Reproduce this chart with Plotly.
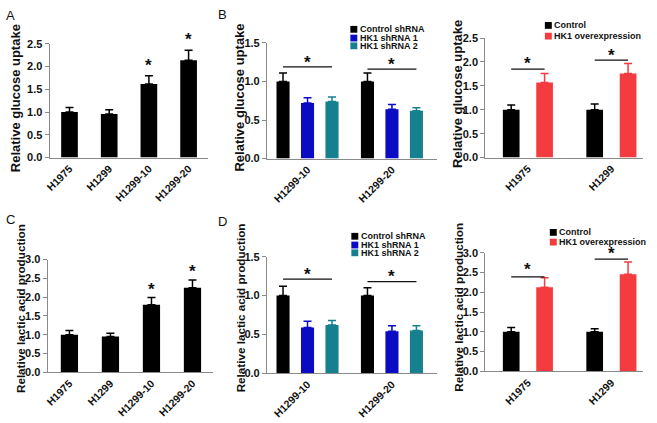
import plotly.graph_objects as go

W, H = 657, 423

# ---- data ----
lines4 = ["H1975", "H1299", "H1299-10", "H1299-20"]
a_glucose = [1.0, 0.96, 1.62, 2.14]
a_glucose_err = [0.10, 0.09, 0.18, 0.22]
a_star_y = [None, None, 2.02, 2.59]

c_lactate = [1.0, 0.95, 1.80, 2.25]
c_lactate_err = [0.11, 0.09, 0.19, 0.21]
c_star_y = [None, None, 2.20, 2.68]

kd_lines = ["H1299-10", "H1299-20"]
kd_names = ["Control shRNA", "HK1 shRNA 1", "HK1 shRNA 2"]
b_ctrl = [1.0, 1.0]
b_ctrl_err = [0.11, 0.11]
b_sh1 = [0.72, 0.64]
b_sh1_err = [0.07, 0.06]
b_sh2 = [0.74, 0.62]
b_sh2_err = [0.06, 0.04]
b_sig_y = [1.19, 1.16]
b_star_y = [1.25, 1.22]

d_ctrl = [1.0, 1.0]
d_ctrl_err = [0.12, 0.10]
d_sh1 = [0.59, 0.54]
d_sh1_err = [0.08, 0.07]
d_sh2 = [0.62, 0.55]
d_sh2_err = [0.06, 0.06]
d_sig_y = [1.21, 1.18]
d_star_y = [1.27, 1.24]

oe_lines = ["H1975", "H1299"]
oe_names = ["Control", "HK1 overexpression"]
b2_ctrl = [1.0, 1.0]
b2_ctrl_err = [0.10, 0.12]
b2_hk1 = [1.57, 1.76]
b2_hk1_err = [0.19, 0.21]
b2_sig_y = [1.85, 2.04]
b2_star_y = [1.96, 2.14]

d2_ctrl = [1.0, 1.0]
d2_ctrl_err = [0.11, 0.08]
d2_hk1 = [2.13, 2.46]
d2_hk1_err = [0.24, 0.31]
d2_sig_y = [2.39, 2.84]
d2_star_y = [2.57, 2.98]

BLACK = "#000000"
BLUE = "#0b0bc4"
TEAL = "#16808e"
RED = "#f43b3f"
AXC = "#8a8a8a"
FONT = "Arial, Liberation Sans, sans-serif"

fig = go.Figure()


def px_x(p):
    return p / W


def px_y(p):
    return 1 - p / H


def bar(ax, cats, vals, errs, color, name, width, offset=None):
    fig.add_trace(go.Bar(
        x=cats, y=vals, name=name, marker=dict(color=color, line=dict(width=0)),
        width=width, offset=offset, showlegend=False,
        xaxis="x" + ax, yaxis="y" + ax,
        error_y=dict(type="data", array=errs, arrayminus=[0] * len(errs),
                     symmetric=False, color=color, thickness=1.5, width=4),
    ))


def axes(ax, xdom, ydom, xrange, ymax, cats):
    fig.layout["xaxis" + ax] = dict(
        domain=[px_x(xdom[0]), px_x(xdom[1])], anchor="y" + ax,
        type="category", categoryarray=cats, range=xrange,
        showline=True, linecolor=AXC, linewidth=1.2, ticks="",
        tickangle=-45, tickfont=dict(family=FONT, size=10.5, color="#111", weight="bold"),
        showgrid=False, zeroline=False, fixedrange=True)
    fig.layout["yaxis" + ax] = dict(
        domain=[px_y(ydom[1]), px_y(ydom[0])], anchor="x" + ax,
        range=[0, ymax], dtick=0.5, tickformat=".1f",
        showline=True, linecolor=AXC, linewidth=1.2, ticks="outside",
        ticklen=4, tickcolor=AXC, tickwidth=1,
        tickfont=dict(family=FONT, size=11, color="#111", weight="bold"),
        showgrid=False, zeroline=False, fixedrange=True)


def ytitle(text, xc, yc, size):
    fig.add_annotation(text=text, xref="paper", yref="paper", x=px_x(xc), y=px_y(yc),
                       textangle=-90, showarrow=False, xanchor="center", yanchor="middle",
                       font=dict(family=FONT, size=size, color="#111", weight="bold"))


def star(ax, xs, ys, ymax):
    # "y domain" reference keeps stars visible even when they sit above the axis top
    for xv, yv in zip(xs, ys):
        if yv is None:
            continue
        fig.add_annotation(text="*", x=xv, y=yv / ymax, xref="x" + ax, yref="y" + ax + " domain",
                           showarrow=False, xanchor="center", yanchor="middle",
                           font=dict(family=FONT, size=17, color="#111", weight="bold"))


def sig(ax, ys, half):
    for i, yv in enumerate(ys):
        fig.add_shape(type="line", xref="x" + ax, yref="y" + ax,
                      x0=i - half, x1=i + half, y0=yv, y1=yv,
                      line=dict(color="#111", width=1.3))


def legend(names, colors, x0, ys, size=9):
    for nm, col, yc in zip(names, colors, ys):
        fig.add_shape(type="rect", xref="paper", yref="paper",
                      x0=px_x(x0), x1=px_x(x0 + 7), y0=px_y(yc + 3.5), y1=px_y(yc - 3.5),
                      fillcolor=col, line=dict(width=0))
        fig.add_annotation(text=nm, xref="paper", yref="paper", x=px_x(x0 + 8.5), y=px_y(yc),
                           showarrow=False, xanchor="left", yanchor="middle",
                           borderpad=0,
                           font=dict(family=FONT, size=size, color="#111", weight="bold"))


# ---- A ----
bar("", lines4, a_glucose, a_glucose_err, BLACK, "A", 0.42)
axes("", (45, 205), (39, 156), [-0.5, 3.5], 2.5, lines4)
star("", lines4, a_star_y, 2.5)
ytitle("Relative glucose uptake", 10, 95, 13)

# ---- B ----
kd_cols = [BLACK, BLUE, TEAL]
for k, (vals, errs) in enumerate([(b_ctrl, b_ctrl_err), (b_sh1, b_sh1_err), (b_sh2, b_sh2_err)]):
    bar("2", kd_lines, vals, errs, kd_cols[k], kd_names[k], 0.155, (k - 1) * 0.29 - 0.0775)
axes("2", (264, 435), (38, 157), [-0.48, 1.53], 1.5, kd_lines)
sig("2", b_sig_y, 0.29)
star("2", kd_lines, b_star_y, 1.5)
ytitle("Relative glucose uptake", 236, 94, 13)
legend(kd_names, kd_cols, 348, [24, 33, 41])

# ---- B right ----
oe_cols = [BLACK, RED]
for k, (vals, errs) in enumerate([(b2_ctrl, b2_ctrl_err), (b2_hk1, b2_hk1_err)]):
    bar("3", oe_lines, vals, errs, oe_cols[k], oe_names[k], 0.2, (k - 0.5) * 0.4 - 0.1)
axes("3", (484, 643), (33, 156), [-0.51, 1.38], 2.5, oe_lines)
sig("3", b2_sig_y, 0.2)
star("3", oe_lines, b2_star_y, 2.5)
ytitle("Relative glucose uptake", 456, 91, 13)
legend(oe_names, oe_cols, 544, [20, 31])

# ---- C ----
bar("4", lines4, c_lactate, c_lactate_err, BLACK, "C", 0.42)
axes("4", (43, 210), (261, 377), [-0.53, 3.51], 3.0, lines4)
star("4", lines4, c_star_y, 3.0)
ytitle("Relative lactic acid production", 15, 311, 11.7)

# ---- D ----
for k, (vals, errs) in enumerate([(d_ctrl, d_ctrl_err), (d_sh1, d_sh1_err), (d_sh2, d_sh2_err)]):
    bar("5", kd_lines, vals, errs, kd_cols[k], kd_names[k], 0.155, (k - 1) * 0.29 - 0.0775)
axes("5", (264, 435), (258, 378), [-0.48, 1.53], 1.5, kd_lines)
sig("5", d_sig_y, 0.29)
star("5", kd_lines, d_star_y, 1.5)
ytitle("Relative lactic acid production", 237, 311, 11.7)
legend(kd_names, kd_cols, 349, [237, 246, 254])

# ---- D right ----
for k, (vals, errs) in enumerate([(d2_ctrl, d2_ctrl_err), (d2_hk1, d2_hk1_err)]):
    bar("6", oe_lines, vals, errs, oe_cols[k], oe_names[k], 0.2, (k - 0.5) * 0.4 - 0.1)
axes("6", (484, 643), (254, 376), [-0.51, 1.38], 3.0, oe_lines)
sig("6", d2_sig_y, 0.2)
star("6", oe_lines, d2_star_y, 3.0)
ytitle("Relative lactic acid production", 457, 310, 11.7)
legend(oe_names, oe_cols, 549, [233, 243])

# panel letters
for letter, lx, ly in [("A", 6, 10), ("B", 219, 9), ("C", 6, 220), ("D", 219, 222)]:
    fig.add_annotation(text=letter, xref="paper", yref="paper", x=px_x(lx), y=px_y(ly),
                       showarrow=False, xanchor="center", yanchor="middle",
                       font=dict(family=FONT, size=13, color="#111"))

fig.update_layout(width=W, height=H, margin=dict(l=0, r=0, t=0, b=0),
                  paper_bgcolor="white", plot_bgcolor="white",
                  barmode="overlay", showlegend=False)

# drop the browser's default 8px body margin so the figure sits at the page origin
fig.write_html("out.html", config={"displayModeBar": False},
               post_script="document.body.style.margin='0px';")
